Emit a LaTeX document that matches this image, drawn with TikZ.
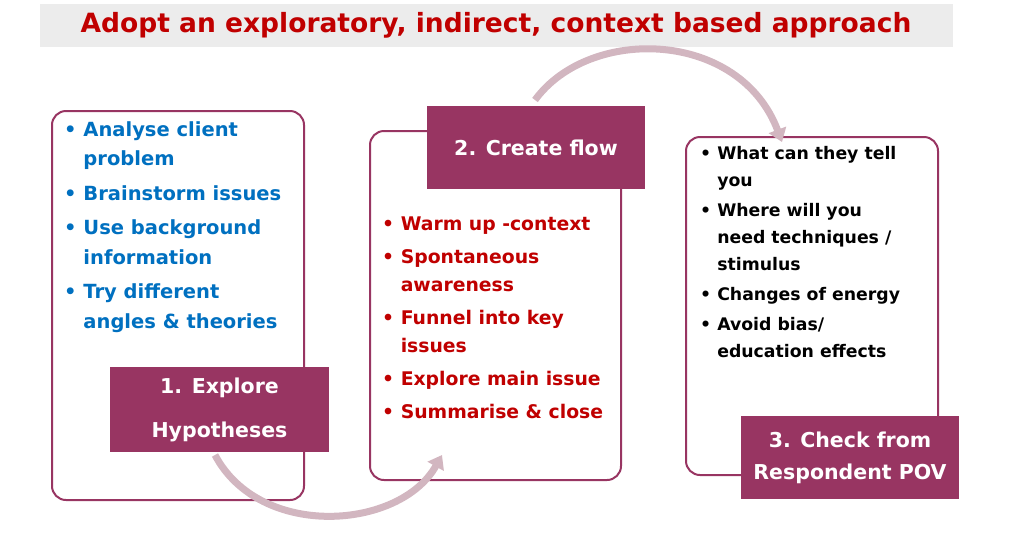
\documentclass[tikz,border=0pt]{standalone}
\usepackage{fontspec}
\setmainfont{DejaVu Sans}
\usetikzlibrary{arrows.meta}
\definecolor{plum}{HTML}{983562}
\definecolor{dred}{HTML}{C00000}
\definecolor{blu}{HTML}{0070C0}
\definecolor{arc}{HTML}{D2B6C0}
\newcommand{\ind}{\phantom{\textbullet\ }}
\begin{document}
\begin{tikzpicture}[x=1pt,y=-1pt,
  frame/.style={draw=plum,line width=2pt,rounded corners=14pt},
  lab/.style={fill=plum,text=white,align=center,inner sep=0},
  bl/.style={anchor=north west,align=left,inner sep=0},
  flowarr/.style={draw=arc,line width=7pt,-{Triangle[length=13pt,width=18pt]}}]
\useasboundingbox (0,0) rectangle (1023,547);
\node[fill=gray!15,minimum width=913pt,minimum height=43pt,anchor=north west] (tb) at (40,4) {};
\node[text=dred,font=\bfseries\fontsize{26.5}{30}\selectfont] (title) at (496,25) {Adopt an exploratory, indirect, context based approach};
% boxes
\draw[frame,fill=white] (52,111) rectangle (304,500);
\draw[frame,fill=white] (370,131) rectangle (621,480);
\draw[frame,fill=white] (686,137) rectangle (938,475);
% arcs
\coordinate (a1s) at (535,100); \coordinate (a1e) at (782,142);
\draw[flowarr] (a1s) .. controls (590,25) and (740,30) .. (a1e);
\coordinate (a2s) at (215,455); \coordinate (a2e) at (442,455);
\draw[flowarr] (a2s) .. controls (260,540) and (400,530) .. (a2e);
% box1 text
\node[bl,text=blu,font=\bfseries\fontsize{19.5}{29.5}\selectfont] (t1) at (64,121) {\textbullet\ Analyse client\\\ind problem\\[5pt]
\textbullet\ Brainstorm issues\\[5pt]
\textbullet\ Use background\\\ind information\\[5pt]
\textbullet\ Try different\\\ind angles \& theories};
% box2 text
\node[bl,text=dred,font=\bfseries\fontsize{18.8}{28}\selectfont] (t2) at (382,217) {\textbullet\ Warm up -context\\[5pt]
\textbullet\ Spontaneous\\\ind awareness\\[5pt]
\textbullet\ Funnel into key\\\ind issues\\[5pt]
\textbullet\ Explore main issue\\[5pt]
\textbullet\ Summarise \& close};
% box3 text
\node[bl,text=black,font=\bfseries\fontsize{17.3}{27}\selectfont] (t3) at (700,146) {\textbullet\ What can they tell\\\ind you\\[3pt]
\textbullet\ Where will you\\\ind need techniques /\\\ind stimulus\\[3pt]
\textbullet\ Changes of energy\\[3pt]
\textbullet\ Avoid bias/\\\ind education effects};
% labels
\node[lab,font=\bfseries\fontsize{20.5}{44}\selectfont,minimum width=219pt,minimum height=85pt] (l1) at (219.5,409.5) {1. Explore\\Hypotheses};
\node[lab,font=\bfseries\fontsize{20.5}{32}\selectfont,minimum width=218pt,minimum height=83pt] (l2) at (536,147.5) {2. Create flow};
\node[lab,font=\bfseries\fontsize{20.5}{32}\selectfont,minimum width=218pt,minimum height=83pt] (l3) at (850,457.5) {3. Check from\\Respondent POV};
\end{tikzpicture}
\end{document}
